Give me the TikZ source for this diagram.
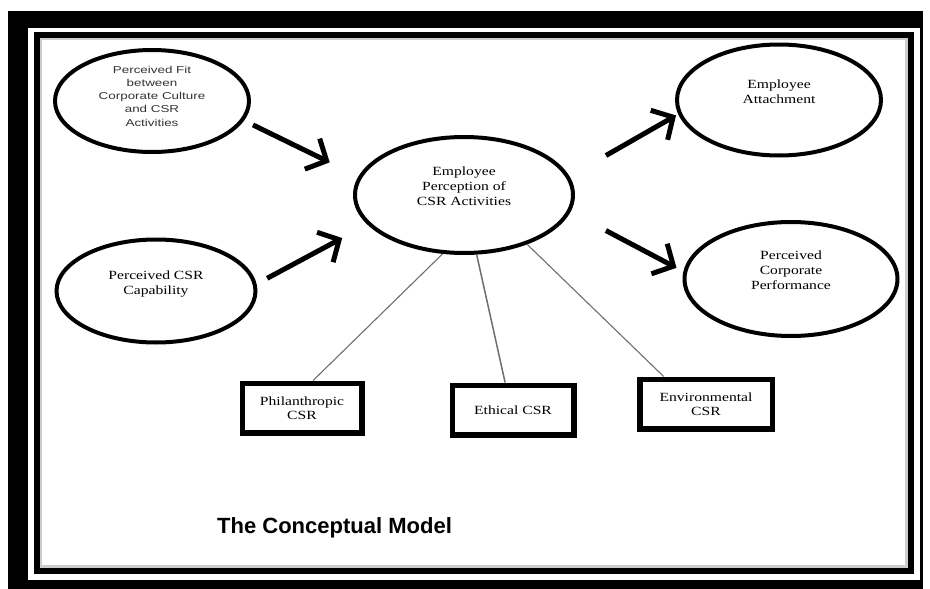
\documentclass[tikz,border=0pt]{standalone}
\usepackage{fontspec}
\usepackage{tikz}
\usetikzlibrary{arrows.meta,shapes.geometric}
\newfontfamily\wideserif[FakeStretch=1.25]{Liberation Serif}
\newfontfamily\widesans[FakeStretch=1.34]{Liberation Sans}
\newfontfamily\titlesans{Liberation Sans}
\definecolor{FrameShade}{RGB}{205,205,205}
\definecolor{LinkGray}{RGB}{110,110,110}

\begin{document}
\begin{tikzpicture}[x=1pt,y=-1pt,
 oval/.style={draw,ellipse,line width=4pt,inner sep=0pt,align=center,text depth=17pt,
  font=\wideserif\fontsize{12.5}{15}\selectfont},
 cbox/.style={draw,rectangle,line width=5.5pt,inner sep=0pt,align=center,minimum height=49.5pt,
  font=\wideserif\fontsize{12.5}{14}\selectfont},
 arr/.style={line width=5pt,-{Straight Barb[length=16pt,width=34pt]}},
 link/.style={draw=LinkGray,line width=1.1pt}]
\useasboundingbox (0,0) rectangle (930,589);
\fill (8,11) rectangle (923,589);
\fill[white] (28,28) rectangle (920,580);
\draw[line width=6pt] (36.5,34.5) rectangle (911,571);
\draw[FrameShade,line width=2.5pt] (41,39) rectangle (906.5,566.5);

\node[oval,minimum width=194pt,minimum height=102pt,text depth=10pt,
 font=\widesans\color{black!80}\fontsize{10}{13.3}\selectfont]
 (fit) at (152,101) {Perceived Fit\\between\\Corporate Culture\\and CSR\\Activities};
\node[oval,minimum width=199pt,minimum height=103pt] (cap) at (156,291) {Perceived CSR\\Capability};
\node[oval,minimum width=218pt,minimum height=116pt] (emp) at (464,195) {Employee\\Perception of\\CSR Activities};
\node[oval,minimum width=204pt,minimum height=111pt] (att) at (779,100) {Employee\\Attachment};
\node[oval,minimum width=213pt,minimum height=114pt] (perf) at (791,279) {Perceived\\Corporate\\Performance};

\node[cbox,minimum width=119.5pt] (phil) at (302,408) {Philanthropic\\CSR};
\node[cbox,minimum width=121.5pt] (eth) at (513,410) {Ethical CSR};
\node[cbox,minimum width=132.5pt] (env) at (706,404) {Environmental\\CSR};

\draw[arr,shorten <=10pt,shorten >=32pt] (fit.-12) -- (emp.170);
\draw[arr,shorten <=12pt,shorten >=28.6pt] (cap.4) -- (emp.197);
\draw[arr,shorten <=42pt,shorten >=2.5pt] (emp.10) -- (att.188);
\draw[arr,shorten <=40pt,shorten >=7.8pt] (emp.-9) -- (perf.176);

\draw[link] (emp.250) -- (phil.68);
\draw[link,line width=1.5pt] (emp.282) -- (eth.106);
\draw[link] (emp.-38) -- (env.147);

\node[anchor=base west,inner sep=0pt,font=\titlesans\bfseries\fontsize{22}{24}\selectfont]
 (title) at (217,533) {The Conceptual Model};
\end{tikzpicture}
\end{document}
